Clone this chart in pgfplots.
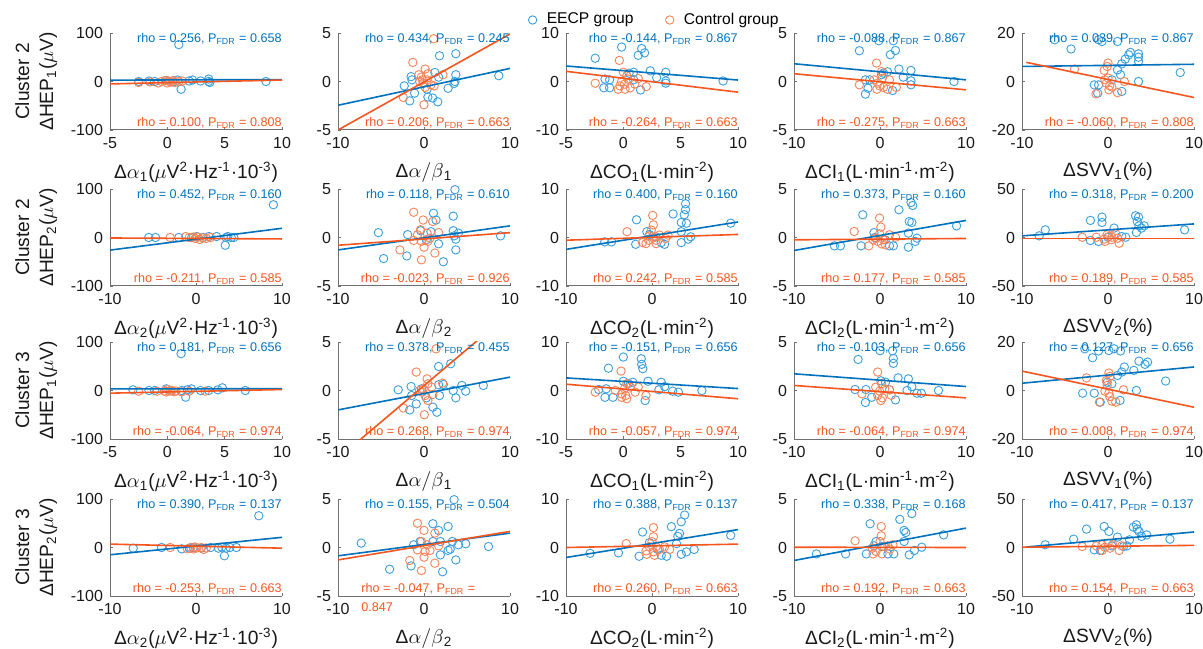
\documentclass[border=0pt]{standalone}
\usepackage{fontspec}
\setmainfont{Liberation Sans}
\usepackage{pgfplots}
\pgfplotsset{compat=1.18}
\definecolor{mblue}{HTML}{0072BD}
\definecolor{mblueM}{HTML}{3A9FDD}
\definecolor{morange}{HTML}{F5561F}
\definecolor{morangeM}{HTML}{F5845A}
\definecolor{axgray}{HTML}{707070}
\newcommand\tickfont{\fontsize{8}{8}\selectfont}
\newcommand\labfont{\fontsize{9.6}{11}\selectfont}
\newcommand\ylabfont{\fontsize{9.6}{12}\selectfont}
\newcommand\rhofont{\fontsize{6.3}{7}\selectfont}
\newcommand\legfont{\fontsize{7.8}{8}\selectfont}
\pgfplotsset{
  panel/.style={scale only axis, width=86pt, height=48.5pt, anchor=south west,
    axis lines=left, axis line style={-, axgray, line width=0.5pt},
    tick style={axgray, line width=0.4pt}, major tick length=1.5pt, tick align=inside,
    ticklabel style={font=\tickfont, text=black!90},
    xlabel style={font=\labfont, text=black!90},
    ylabel style={font=\ylabfont, text=black!90, align=center},
    clip mode=individual, enlargelimits=false},
  bmark/.style={only marks, mark=o, mark size=2.1pt, color=mblueM, mark options={line width=0.45pt}},
  omark/.style={only marks, mark=o, mark size=2.1pt, color=morangeM, mark options={line width=0.45pt}},
  bline/.style={color=mblue, line width=0.8pt, forget plot, no marks},
  oline/.style={color=morange, line width=0.8pt, forget plot, no marks},
  xa/.style={xmin=-5,xmax=10,xtick={-5,0,5,10},xticklabels={-5,0,5,10}},
  xb/.style={xmin=-10,xmax=10,xtick={-10,0,10},xticklabels={-10,0,10}},
  yh/.style={ymin=-100,ymax=100,ytick={-100,0,100},yticklabels={-100,0,100}},
  y5/.style={ymin=-5,ymax=5,ytick={-5,0,5},yticklabels={-5,0,5}},
  y10/.style={ymin=-10,ymax=10,ytick={-10,0,10},yticklabels={-10,0,10}},
  y20/.style={ymin=-20,ymax=20,ytick={-20,0,20},yticklabels={-20,0,20}},
  y50/.style={ymin=-50,ymax=50,ytick={-50,0,50},yticklabels={-50,0,50}},
}
\tikzset{btext/.style={font=\rhofont, text=mblue, anchor=north east, inner sep=0pt},
         otext/.style={font=\rhofont, text=morange, anchor=south east, inner sep=0pt}}
\newcommand\bpts[1]{\addplot[bmark] coordinates {#1};}
\newcommand\opts[1]{\addplot[omark] coordinates {#1};}
\newcommand\bln[1]{\addplot[bline] coordinates {#1};}
\newcommand\oln[1]{\addplot[oline] coordinates {#1};}
\newcommand\btx[2]{\node[btext] at (rel axis cs:1,1) {rho = #1, P\textsubscript{FDR} = #2};}
\newcommand\otx[2]{\node[otext] at (rel axis cs:1,0.01) {rho = #1, P\textsubscript{FDR} = #2};}
\newcommand\XA[1]{Δ$\alpha$\textsubscript{#1}($\mu$V\textsuperscript{2}·Hz\textsuperscript{-1}·10\textsuperscript{-3})}
\newcommand\XB[1]{Δ$\alpha/\beta$\textsubscript{#1}}
\newcommand\XC[1]{ΔCO\textsubscript{#1}(L·min\textsuperscript{-2})}
\newcommand\XD[1]{ΔCI\textsubscript{#1}(L·min\textsuperscript{-1}·m\textsuperscript{-2})}
\newcommand\XE[1]{ΔSVV\textsubscript{#1}(\%)}
\begin{document}
\begin{tikzpicture}
\path[use as bounding box] (0,0) rectangle (601.5pt,324pt);
% ================= ROW 1 =================
\begin{axis}[panel, xa, yh, at={(55pt,259pt)}, xlabel={\XA{1}}, ylabel={Cluster 2\\ΔHEP\textsubscript{1}($\mu$V)}]
\bpts{(1,76) (-2.5,0) (-1.6,1) (-1.1,0) (-0.1,2) (0.9,3) (1.2,-16) (1.9,1) (2.2,3) (2.9,1) (3.6,5) (3.6,0) (3.7,-2) (8.6,0) (0.5,-1)}
\opts{(-2.5,-2) (-1.5,-1) (-0.5,0) (-0.2,2) (0,-3) (0.1,1) (0.3,-1) (0.5,2) (0.7,-2) (1,0) (1.3,1) (-0.8,-3) (0.2,0)}
\bln{(-5,2.8) (10,4)}
\oln{(-5,-5) (10,3)}
\btx{0.256}{0.658}
\otx{0.100}{0.808}
\end{axis}
\begin{axis}[panel, xb, y5, at={(169pt,259pt)}, xlabel={\XB{1}}]
\bpts{(1.8,2.65) (3.7,2.86) (3.7,0.7) (3.6,0) (3.5,-0.2) (8.7,0.6) (1.26,0.93) (2.8,-0.7) (1.7,0.45) (1.6,-2.1) (1.0,-1.7) (0.45,-1.6) (-1.66,-2.0) (-1.1,-1.2) (-1.4,0.17) (-1.5,0.5) (-2.3,-0.45) (0.36,-0.8)}
\opts{(1.1,4.4) (-1.3,1.97) (0.13,1.28) (0.45,0.8) (-0.3,0.45) (-0.2,0.17) (-0.5,0) (-0.1,-0.17) (0.8,-0.34) (1.17,-0.45) (0.13,-0.6) (-2.4,-1.65) (0,-2.4) (2.2,0.7) (-0.6,0.7) (0.36,0.17)}
\bln{(-10,-2.45) (10,1.35)}
\oln{(-10,-5) (10,4.9)}
\btx{0.434}{0.245}
\otx{0.206}{0.663}
\end{axis}
\begin{axis}[panel, xa, y10, at={(283pt,259pt)}, xlabel={\XC{1}},
  legend style={draw=none, fill=none, font=\legfont, legend columns=2, at={(0.52,1.134)}, anchor=center,
  /tikz/every odd column/.append style={column sep=3pt},
  /tikz/every even column/.append style={column sep=14pt}}, legend cell align=left]
\bpts{(-2.45,4.8) (-0.15,7.1) (1.6,6.8) (1.85,5.9) (1.3,5.4) (0.9,1.9) (0.5,1.7) (2.35,2.2) (2.9,0.8) (3.7,1.9) (3.7,0.1) (3.7,-0.35) (8.7,0.1) (-1.6,0.5) (-1.2,0.35) (-1.7,-1.3) (-1.2,-1.3) (1.5,-1.75) (0.9,0.35)}
\opts{(-2.45,-0.35) (-0.35,4.35) (0,1.9) (0.3,1.2) (-0.15,0) (0.1,-0.55) (-0.3,-0.9) (0.4,0.5) (0.6,-1.3) (1.0,-0.55) (1.3,0.6) (2.0,-1.05) (-0.45,-1.6) (0.15,-1.6)}
\legend{EECP group, Control group}
\bln{(-5,3.2) (10,0.3)}
\oln{(-5,2.1) (10,-2.2)}
\btx{-0.144}{0.867}
\otx{-0.264}{0.663}
\end{axis}
\begin{axis}[panel, xb, y5, at={(397pt,259pt)}, xlabel={\XD{1}}]
\bpts{(-2.4,3.17) (-0.14,4.2) (1.55,4.2) (1.8,3.2) (1.2,2.76) (2.2,1.28) (3.6,1.14) (2.7,0.45) (0.87,1.0) (0.18,0.7) (-1.7,0.17) (-1.2,0.17) (-1.4,-0.7) (-1.7,-1.3) (1.46,-0.93) (3.6,0.07) (3.6,-0.34) (8.6,0) (0.4,0.86)}
\opts{(-0.4,1.9) (0.18,1.03) (-2.4,-0.34) (-0.7,0.17) (-0.27,-0.17) (-0.05,-0.45) (0.4,-0.6) (0.87,-0.8) (1.9,-0.6) (1.1,0.17) (0.27,0.34) (-0.36,-0.8)}
\bln{(-10,1.83) (10,0.17)}
\oln{(-10,0.8) (10,-0.86)}
\btx{-0.088}{0.867}
\otx{-0.275}{0.663}
\end{axis}
\begin{axis}[panel, xb, y20, at={(511pt,259pt)}, xlabel={\XE{1}}]
\bpts{(-6.2,17.2) (-4.3,13.4) (-1.1,17.2) (-0.7,16.5) (1.1,16.5) (2.6,12) (2.4,11) (2.0,9.2) (3.55,11.4) (3.55,10) (3.55,8.3) (1.6,7.3) (1.1,4.8) (1.45,2.8) (3.55,0) (8.4,3.7) (-1.6,-1.4) (-1.1,-1.4) (-1.2,-4.8) (1.6,-4.1) (0.45,0.7)}
\opts{(-3.9,5.1) (0,7.6) (-0.1,6.2) (-0.45,4.6) (0,1.4) (-0.2,-0.7) (0.2,-1.8) (0.45,-2.3) (0.1,-3.4) (-1.4,-5.1) (1.1,-4.6) (1.9,0) (-0.36,0.7)}
\bln{(-10,6.2) (10,7.1)}
\oln{(-9.5,7.9) (10,-6.6)}
\btx{0.039}{0.867}
\otx{-0.060}{0.808}
\end{axis}
% ================= ROW 2 =================
\begin{axis}[panel, xb, yh, at={(55pt,181pt)}, xlabel={\XA{2}}, ylabel={Cluster 2\\ΔHEP\textsubscript{2}($\mu$V)}]
\bpts{(9.0,67.6) (-5.5,0) (-4.7,0) (-2.0,0) (-0.5,0) (0.1,2) (0.8,0) (1.5,2) (2.4,2) (3.5,0) (3.7,2) (4.1,0) (4.4,0) (3.4,-16)}
\opts{(-3.0,0) (-1.2,2) (-0.8,0) (-0.3,1) (-0.1,-2) (0.4,-4) (0.8,-1) (1.2,-2) (1.7,0) (0.2,1)}
\bln{(-10,-26) (10,19)}
\oln{(-10,-1) (10,-3)}
\btx{0.452}{0.160}
\otx{-0.211}{0.585}
\end{axis}
\begin{axis}[panel, xb, y5, at={(169pt,181pt)}, xlabel={\XB{2}}]
\bpts{(3.6,4.93) (1.1,2.5) (1.4,1.8) (3.4,2.2) (-5.3,0.5) (-1.9,0.3) (-0.4,0.7) (0.8,0.6) (3.4,0.7) (4.0,0.45) (3.7,-0.17) (3.5,0.17) (8.9,0.17) (1.7,-0.65) (3.7,-1.28) (-4.7,-2.17) (-2.0,-1.9) (2.25,-2.5) (0.27,-0.24)}
\opts{(-1.2,2.6) (-0.1,1.8) (1.0,1.65) (-0.4,0.8) (0.36,0.45) (-0.76,0.28) (1.7,0.5) (-1.2,-0.3) (-0.3,-0.4) (0.45,-0.4) (0,-1.0) (-2.8,-1.28) (1.26,-1.6) (-0.3,-2.3) (0.7,-0.07)}
\bln{(-10,-1.28) (10,1.2)}
\oln{(-10,-0.8) (10,0.5)}
\btx{0.118}{0.610}
\otx{-0.023}{0.926}
\end{axis}
\begin{axis}[panel, xb, y10, at={(283pt,181pt)}, xlabel={\XC{2}}]
\bpts{(9.15,2.95) (3.75,4.7) (3.9,5.75) (3.9,6.95) (2.45,4.85) (-1.8,3.65) (3.4,3.1) (4.0,2.95) (3.4,1.2) (4.5,0.14) (4.2,-0.35) (3.4,-1.05) (-0.6,1.2) (-0.3,0.6) (-5.5,-0.9) (-4.7,-0.9) (-1.9,-1.4) (1.07,-1.05) (1.46,-1.4) (0.47,0.14)}
\opts{(-2.9,1.2) (0.08,4.56) (0.16,2.6) (-0.08,1.54) (-0.3,0.35) (0.16,-0.07) (-0.4,-0.56) (0.47,-0.56) (-1.1,-1.05) (0.87,0.5) (1.85,0.5) (1.58,-0.2) (0.47,-1.26) (-0.7,-1.26)}
\bln{(-10,-2.45) (10,3.2)}
\oln{(-10,-0.56) (10,0.63)}
\btx{0.400}{0.160}
\otx{0.242}{0.585}
\end{axis}
\begin{axis}[panel, xb, y5, at={(397pt,181pt)}, xlabel={\XD{2}}]
\bpts{(-2.0,2.34) (2.2,2.86) (3.6,3.6) (3.8,3.3) (3.4,1.65) (3.7,1.55) (3.3,0.45) (8.9,1.2) (-0.7,0.5) (-0.6,0) (-2.2,-0.86) (-5.3,-0.86) (-4.6,-0.86) (1.1,-0.86) (1.55,-0.86) (3.3,-1.0) (4.1,-0.4) (4.3,-0.07) (0.6,-0.24)}
\opts{(-3.0,0.62) (-0.05,2.0) (0.1,1.07) (-0.05,0.38) (-0.5,-0.07) (0.4,-0.24) (1.1,0.28) (1.8,0.03) (-1.3,-0.86) (0.18,-0.66) (0.64,-0.76) (-0.8,-0.24) (-0.27,-0.4)}
\bln{(-10,-1.34) (10,1.76)}
\oln{(-10,-0.24) (10,-0.1)}
\btx{0.373}{0.160}
\otx{0.177}{0.585}
\end{axis}
\begin{axis}[panel, xb, y50, at={(511pt,181pt)}, xlabel={\XE{2}}]
\bpts{(-2.05,17.6) (-0.7,21) (-0.7,15.5) (3.2,22.4) (3.55,21) (3.4,16.5) (3.6,12) (4.2,12) (3.9,9.7) (3.3,5.2) (0.7,9.7) (8.9,7.9) (-8,1.7) (-7.3,7.9) (-2.05,-3.1) (-1.1,-4.1) (1.6,1.0) (2.05,0.3) (0,0.3)}
\opts{(-3.0,0.3) (-1.36,0.3) (-0.45,-1.7) (-0.1,2.8) (0.1,1.0) (0.45,0.3) (0.9,3.8) (1.1,-0.7) (1.3,-5.9) (-0.36,-4.1) (0.36,-2.4)}
\bln{(-10,1.7) (10,14)}
\oln{(-10,-1) (10,-1)}
\btx{0.318}{0.200}
\otx{0.189}{0.585}
\end{axis}
% ================= ROW 3 =================
\begin{axis}[panel, xa, yh, at={(55pt,104.5pt)}, xlabel={\XA{1}}, ylabel={Cluster 3\\ΔHEP\textsubscript{1}($\mu$V)}]
\bpts{(1.2,76) (-3.0,1.4) (-1.6,0) (-1.1,0) (-0.1,3.4) (0.24,0) (1.25,0) (1.75,1.4) (2.1,3.4) (2.9,0) (3.6,0) (4.4,1.4) (4.8,5.5) (6.8,0) (1.6,-13.8)}
\opts{(-2.5,-1.4) (-0.9,-1.4) (-0.25,-1) (-0.1,-3) (0.05,2) (0.25,-1) (0.4,0) (0.6,-2.5) (0.75,-1) (1.25,-2.8) (1.9,-1.4) (3.3,-1.4)}
\bln{(-5,3.4) (10,3.6)}
\oln{(-5,-5.5) (10,2)}
\btx{0.181}{0.656}
\otx{-0.064}{0.974}
\end{axis}
\begin{axis}[panel, xb, y5, at={(169pt,104.5pt)}, xlabel={\XB{1}}]
\bpts{(1.7,2.48) (3.1,2.76) (4.4,0.52) (4.85,-0.07) (3.4,0) (3.7,-0.76) (6.9,0.52) (1.7,0.59) (2.25,0.62) (1.8,-0.52) (1.03,-1.72) (1.5,-2.24) (-1.66,-2.0) (-0.9,-1.38) (-1.44,-0.52) (-1.5,0.41) (-3.0,0.07) (0.27,-0.76) (-0.3,0.17)}
\opts{(1.4,4.3) (-0.9,1.9) (0.36,1.2) (0.45,0.69) (-0.1,0.17) (-0.22,-0.17) (0.13,-0.52) (0.45,-1.03) (1.03,-0.41) (2.16,0.76) (-2.4,-1.8) (0.04,-2.5) (-0.54,0) (0.9,0.34)}
\bln{(-10,-2.0) (10,1.38)}
\oln{(-10,-7.0) (10,8.0)}
\btx{0.378}{0.455}
\otx{0.268}{0.974}
\end{axis}
\begin{axis}[panel, xa, y10, at={(283pt,104.5pt)}, xlabel={\XC{1}}]
\bpts{(0,6.9) (1.56,6.55) (1.6,5.4) (1.7,4.5) (-1.3,4.6) (-2.15,0.2) (-1.6,-1.4) (-1.5,0.35) (-0.9,-1.4) (0,1.9) (0.82,1.7) (2.15,1.9) (3.1,0.14) (3.3,1.7) (3.6,0.8) (4.3,-0.14) (4.8,-0.35) (6.85,0) (1.9,-2.07) (0.44,1.4)}
\opts{(-2.45,-0.35) (-0.2,4.0) (0.3,1.4) (0.1,0.35) (-0.15,-0.7) (0.2,-1.03) (0.6,0.7) (1.03,-0.35) (1.3,0.7) (1.97,-1.03) (-0.15,-1.4) (0.3,-1.7) (-0.7,0)}
\bln{(-5,2.6) (10,0.4)}
\oln{(-5,1.3) (10,-1.7)}
\btx{-0.151}{0.656}
\otx{-0.057}{0.974}
\end{axis}
\begin{axis}[panel, xb, y5, at={(397pt,104.5pt)}, xlabel={\XD{1}}]
\bpts{(0,4.1) (1.46,4.1) (1.55,3.3) (1.55,2.8) (-2.55,3.2) (2.1,1.3) (3.3,1.2) (0.1,1.0) (0.64,0.86) (-1.64,0.1) (-2.9,0.1) (-0.96,-0.7) (-1.7,-1.24) (1.1,0.07) (3.15,0) (3.7,0.4) (4.3,-0.28) (4.8,-0.28) (6.8,0) (1.8,-0.97)}
\opts{(-0.27,1.9) (0.18,0.7) (0.55,0.17) (-0.05,-0.07) (-0.27,-0.52) (0.27,-0.76) (1.1,0.07) (1.3,-0.5) (-2.1,-0.34) (-0.5,0.34) (0.1,-1.03)}
\bln{(-10,1.72) (10,0.41)}
\oln{(-10,0.52) (10,-0.76)}
\btx{-0.103}{0.656}
\otx{-0.064}{0.974}
\end{axis}
\begin{axis}[panel, xb, y20, at={(511pt,104.5pt)}, xlabel={\XE{1}}]
\bpts{(-2.7,17.2) (-1.1,16.3) (0.1,16.5) (0.7,17.2) (1.45,16.3) (-1.8,13.5) (3.6,12.1) (4.3,10.8) (4.6,11.7) (1.9,9.7) (1.6,7.6) (3.0,8.3) (1.1,6.2) (-0.1,3.4) (0.45,2.8) (6.7,3.9) (-2.95,-1.1) (-1.6,-1.1) (3.3,0) (1.4,-4.1) (-0.9,-4.8)}
\opts{(-2.5,5.2) (0.1,7.2) (0.2,5.8) (-0.2,4.1) (-0.1,2.1) (-0.36,-0.3) (0.1,-1.1) (0.2,-2.5) (0.45,-4.4) (-1.0,-4.8) (0.9,-4.8) (1.8,0.3)}
\bln{(-10,3.0) (10,9.7)}
\oln{(-10,8.0) (10,-6.9)}
\btx{0.127}{0.656}
\otx{0.008}{0.974}
\end{axis}
% ================= ROW 4 =================
\begin{axis}[panel, xb, yh, at={(55pt,26pt)}, xlabel={\XA{2}}, ylabel={Cluster 3\\ΔHEP\textsubscript{2}($\mu$V)}]
\bpts{(7.3,65.5) (-7.3,-1.4) (-4.0,0) (-1.66,-2.8) (-0.76,-1.4) (-0.3,0) (0.6,-1.4) (1.7,0) (2.6,-1.4) (3.0,0.7) (3.5,-1.4) (3.95,0) (4.7,0) (3.3,-17)}
\opts{(-3.0,0) (-1.0,-2.8) (-0.6,0) (-0.3,-3) (0.1,-1) (0.6,0) (0.9,-4) (1.2,-1) (-0.1,1)}
\bln{(-10,-15) (10,21)}
\oln{(-10,7) (10,-1.4)}
\btx{0.390}{0.137}
\otx{-0.253}{0.663}
\end{axis}
\begin{axis}[panel, xb, y5, at={(169pt,26pt)}, xlabel={\XB{2}}]
\bpts{(3.5,4.93) (-7.3,0.45) (1.03,2.45) (1.7,1.76) (2.8,2.17) (1.03,0.62) (1.9,0.62) (3.3,0.62) (4.0,0.28) (4.85,0.38) (3.05,-0.17) (2.8,-0.3) (7.5,0.1) (-1.2,0.28) (-0.45,0.62) (1.9,-0.76) (3.7,-1.28) (-4.0,-2.24) (-1.5,-1.9) (2.16,-2.5)}
\opts{(-0.76,2.5) (0,1.76) (1.26,1.48) (-0.3,0.62) (0.36,0.28) (-0.76,-0.24) (0.13,-0.41) (0.7,-0.3) (1.7,0.17) (-1.66,-1.34) (0,-1.0) (1.26,-1.62) (-0.3,-2.38)}
\bln{(-10,-0.86) (10,1.48)}
\oln{(-10,-1.28) (10,1.66)}
\btx{0.155}{0.504}
\node[otext, anchor=south west] at (rel axis cs:0.134,0.01) {rho = -0.047, P\textsubscript{FDR} =};
\node[otext, anchor=north west] at (rel axis cs:0.134,-0.06) {0.847};
\end{axis}
\begin{axis}[panel, xb, y10, at={(283pt,26pt)}, xlabel={\XC{2}}]
\bpts{(9.15,2.5) (3.8,6.7) (3.4,5.3) (3.2,2.9) (3.0,2.3) (2.25,4.3) (-1.1,3.2) (2.85,0.8) (-7.2,-1.2) (-3.9,-1.1) (-1.5,-1.8) (-0.3,1.0) (1.07,-1.6) (1.7,-1.8) (3.4,-1.4) (4.0,-0.9) (4.9,-0.4) (0.67,-0.4)}
\opts{(-3.0,0.8) (0.16,4.1) (0.16,2.2) (0,1.2) (-0.3,0.14) (0.47,0.14) (-0.7,-0.7) (0.16,-0.9) (0.87,-0.4) (1.46,0.14) (-0.63,-1.4) (0.28,-1.6) (2.05,-0.4)}
\bln{(-10,-2.06) (10,3.7)}
\oln{(-10,0) (10,0.7)}
\btx{0.388}{0.137}
\otx{0.260}{0.663}
\end{axis}
\begin{axis}[panel, xb, y5, at={(397pt,26pt)}, xlabel={\XD{2}}]
\bpts{(-7.4,-0.66) (-4.0,-0.66) (-1.15,2.45) (2.3,2.9) (3.7,3.5) (2.8,1.76) (3.0,1.55) (2.8,0.62) (7.4,1.3) (-0.46,0.62) (-1.6,-0.66) (0.92,-0.66) (1.6,-0.66) (3.4,-0.76) (4.0,-0.3) (4.85,0.03) (0.23,0.1) (-0.7,0.17)}
\opts{(-2.9,0.69) (0.14,2.17) (0.14,1.2) (0,0.62) (-0.9,-0.07) (0.46,0.1) (-0.46,-0.41) (0.23,-0.66) (1.15,-0.17) (1.5,0.28) (-0.8,-0.66) (0.92,0.17)}
\bln{(-10,-1.34) (10,2.0)}
\oln{(-10,0.03) (10,0.0)}
\btx{0.338}{0.168}
\otx{0.192}{0.663}
\end{axis}
\begin{axis}[panel, xb, y50, at={(511pt,26pt)}, xlabel={\XE{2}}]
\bpts{(-7.3,2.8) (-4.0,8.6) (-2.5,19) (-0.45,21.7) (0.1,16.6) (2.95,21) (3.3,23.4) (3.4,19) (3.6,16.6) (3.9,11.4) (4.5,13) (2.5,7.9) (1.1,10.7) (7.2,8.6) (-1.6,-2.4) (-0.9,-3.1) (1.8,1.0) (2.2,1.7) (0.45,1.7)}
\opts{(-3.0,1.0) (-0.7,2.8) (-0.36,0.3) (0,4.5) (0.23,-0.7) (0.55,2.8) (1.3,-3.1) (1.6,1.7) (-0.7,-3.1) (-1.36,1.7)}
\bln{(-9.5,0.5) (10,16)}
\oln{(-10,0.3) (10,2.2)}
\btx{0.417}{0.137}
\otx{0.154}{0.663}
\end{axis}
\end{tikzpicture}
\end{document}
